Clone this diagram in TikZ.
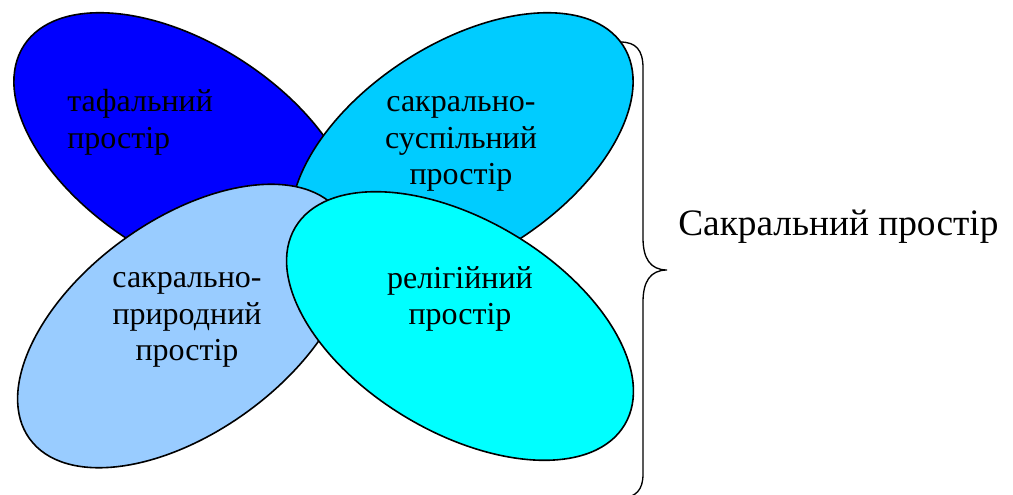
\documentclass[tikz,border=0pt]{standalone}
\usepackage{fontspec}
\setmainfont{Liberation Serif}
\usepackage{xcolor}
\usetikzlibrary{shapes.geometric}
\definecolor{tflblue}{RGB}{0,0,255}
\definecolor{sspblue}{RGB}{0,204,255}
\definecolor{prdblue}{RGB}{153,204,255}
\definecolor{rlgcyan}{RGB}{0,255,255}

\begin{document}
\begin{tikzpicture}[x=0.75pt,y=-0.75pt,
    petal/.style={ellipse, draw, line width=1.2pt, inner sep=0pt, minimum width=288pt, minimum height=159pt},
    label/.style={inner sep=0pt, font=\fontsize{24}{27.5}\selectfont}]
    \useasboundingbox (0,0) rectangle (1013,495);
    \node [petal, fill=tflblue, rotate=-33] (tfl) at (185,150) {};
    \node [petal, fill=sspblue, rotate=33] (ssp) at (462,150) {};
    \node [petal, fill=prdblue, rotate=36] (prd) at (185,326) {};
    \node [petal, fill=rlgcyan, rotate=-31] (rlg) at (460,326) {};
    \node [label, align=left, anchor=west] (tfltxt) at (67,122) {тафальний\\простір};
    \node [label, align=center] (ssptxt) at (461,144) {сакрально-\\суспільний\\простір};
    \node [label, align=center] (prdtxt) at (187,320) {сакрально-\\природний\\простір};
    \node [label, align=center] (rlgtxt) at (460,299) {релігійний\\простір};
    \node [inner sep=0pt, anchor=west, font=\fontsize{28}{32}\selectfont] (sum) at (678,227) {Сакральний простір};
    \draw [line width=1pt] (620,42) .. controls (636,42) and (643,50) .. (643,68)
      -- (643,238) .. controls (643,258) and (650,270) .. (667,270)
      .. controls (650,270) and (643,282) .. (643,302)
      -- (643,474) .. controls (643,490) and (636,497) .. (622,498);
\end{tikzpicture}
\end{document}
